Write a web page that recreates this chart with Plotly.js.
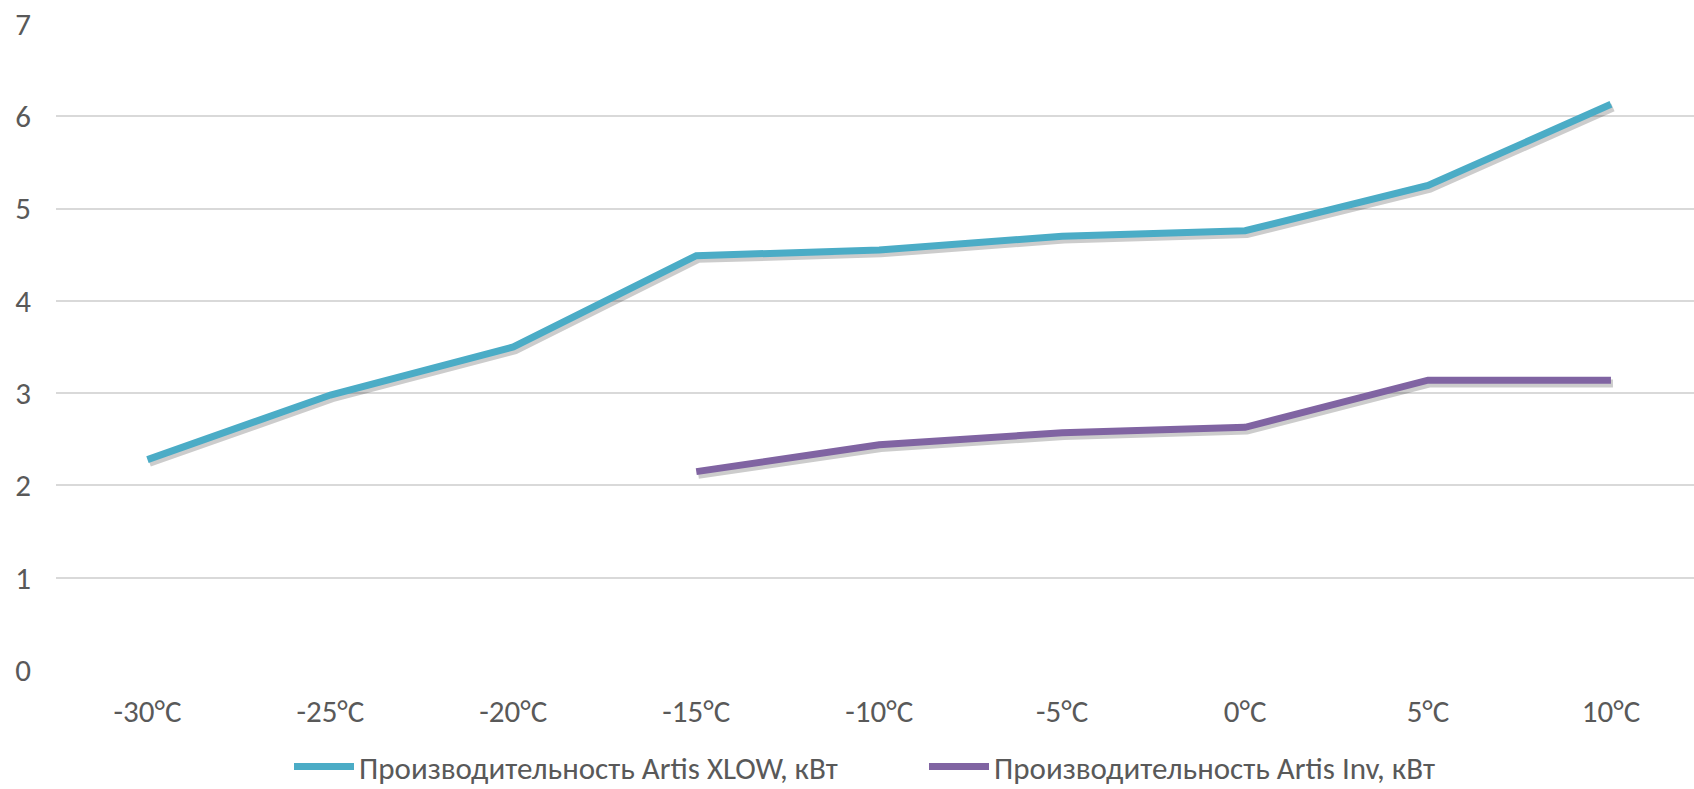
<!DOCTYPE html>
<html>
<head>
<meta charset="utf-8">
<script src="https://cdn.plot.ly/plotly-3.0.1.min.js"></script>
<style>html,body{margin:0;padding:0;background:#fff;}#chart{width:1694px;height:789px;}</style>
</head>
<body>
<div id="chart"></div>
<script>
const categories = ['-30°C','-25°C','-20°C','-15°C','-10°C','-5°C','0°C','5°C','10°C'];
const xlowValues = [2.28, 2.98, 3.50, 4.49, 4.55, 4.70, 4.76, 5.25, 6.13];
const invValues = [null, null, null, 2.15, 2.44, 2.57, 2.63, 3.14, 3.14];
const seriesNames = ['Производительность Artis XLOW, кВт', 'Производительность Artis Inv, кВт'];
const yTicks = [0, 1, 2, 3, 4, 5, 6, 7];

const FONT = 'Carlito, Lato, "Open Sans", sans-serif';
const FS = 31;
const colors = ['#4BACC6', '#8064A2'];
const shadow = 'rgba(0,0,0,0.2)';

const traces = [
  {x: categories, y: xlowValues, type: 'scatter', mode: 'lines', xaxis: 'x', yaxis: 'y',
   line: {color: shadow, width: 8}, showlegend: false, hoverinfo: 'skip'},
  {x: categories, y: invValues, type: 'scatter', mode: 'lines', xaxis: 'x', yaxis: 'y',
   line: {color: shadow, width: 8}, showlegend: false, hoverinfo: 'skip'},
  {x: categories, y: xlowValues, type: 'scatter', mode: 'lines', name: seriesNames[0],
   xaxis: 'x2', yaxis: 'y2', line: {color: colors[0], width: 7}},
  {x: categories, y: invValues, type: 'scatter', mode: 'lines', name: seriesNames[1],
   xaxis: 'x2', yaxis: 'y2', line: {color: colors[1], width: 7}}
];

const xr = [-0.5, 8.454];
const dx = 0.011, dy = 0.035;

const layout = {
  width: 1694, height: 789,
  margin: {l: 56, r: 0, t: 24, b: 119, autoexpand: false},
  paper_bgcolor: '#ffffff', plot_bgcolor: '#ffffff',
  font: {family: FONT, size: FS, color: '#595959'},
  showlegend: true,
  legend: {orientation: 'h', x: (289 - 56) / 1638, xanchor: 'left', y: -0.150, yanchor: 'middle',
           font: {family: FONT, size: 31, color: '#595959'}, itemwidth: 60, entrywidth: 560,
           traceorder: 'normal'},
  xaxis: {type: 'category', categoryarray: categories, range: [xr[0] - dx, xr[1] - dx],
          showgrid: false, zeroline: false, showline: false, showticklabels: false, ticks: ''},
  yaxis: {range: [dy, 7 + dy], showgrid: false, zeroline: false, showline: false,
          showticklabels: false, ticks: ''},
  xaxis2: {type: 'category', categoryarray: categories, range: xr, overlaying: 'x',
           showgrid: false, zeroline: false, showline: false, ticks: '',
           tickfont: {family: FONT, size: FS, color: '#595959'}, ticklabelstandoff: 20},
  yaxis2: {range: [0, 7], overlaying: 'y', tickvals: yTicks, showgrid: true,
           gridcolor: '#d9d9d9', gridwidth: 2, zeroline: false, showline: false, ticks: '',
           tickfont: {family: FONT, size: FS, color: '#595959'}, ticklabelstandoff: 24}
};

Plotly.newPlot('chart', traces, layout, {displayModeBar: false, staticPlot: true});
</script>
</body>
</html>
